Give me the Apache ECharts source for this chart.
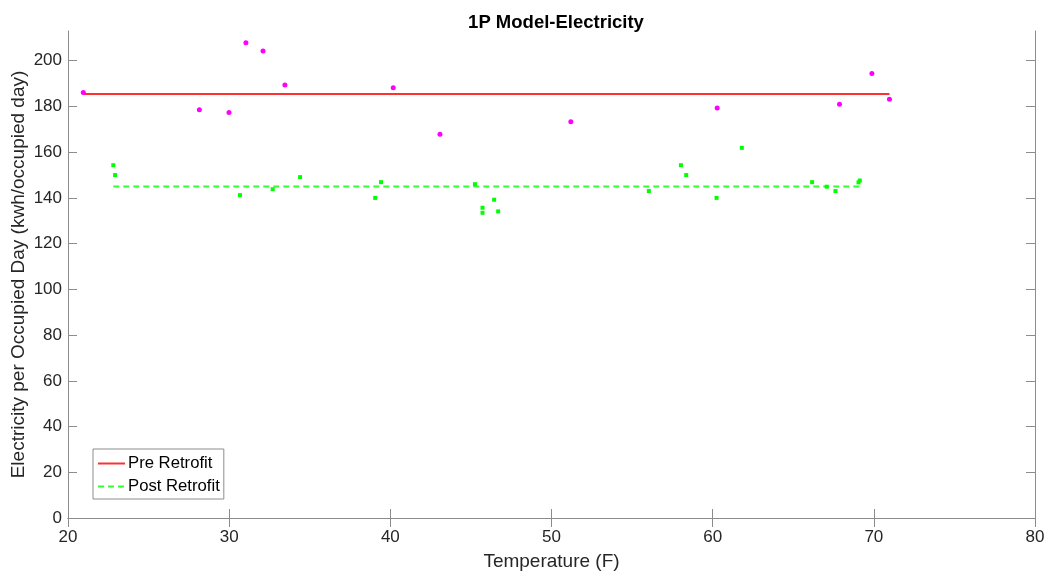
<!DOCTYPE html>
<html><head><meta charset="utf-8">
<script src="https://cdn.jsdelivr.net/npm/echarts@6/dist/echarts.min.js"></script>
<style>html,body{margin:0;padding:0;background:#fff}#c{width:1047px;height:574px}</style>
</head><body><div id="c"></div>
<script>
// Pre-retrofit observations [temperature F, kWh/occupied day]
const preTemps  = [20.95, 28.15, 29.99, 31.04, 32.10, 33.46, 40.18, 43.08, 51.20, 60.28, 67.87, 69.88, 70.97];
const preValues = [186.1, 178.6, 177.4, 207.9, 204.2, 189.4, 188.2, 167.8, 173.3, 179.3, 181.0, 194.4, 183.1];
// Post-retrofit observations
const postTemps  = [22.81, 22.92, 30.67, 32.70, 34.40, 39.06, 39.42, 45.25, 45.72, 45.72, 46.44, 46.69, 56.04, 58.03, 58.36, 60.24, 61.81, 66.17, 67.08, 67.62, 69.13, 69.05];
const postValues = [154.3, 150.0, 141.2, 143.8, 149.1, 140.0, 146.9, 146.0, 135.7, 133.5, 139.2, 134.1, 143.0, 154.3, 150.0, 140.0, 161.9, 146.9, 144.9, 143.0, 147.6, 146.8];
// 1P model constants
const preModel = 185.4;
const postModel = 145.0;
const xTicks = [20, 30, 40, 50, 60, 70, 80];
const yTicks = [0, 20, 40, 60, 80, 100, 120, 140, 160, 180, 200];
const yMax = 213;

const zip = (a, b) => a.map((v, i) => [v, b[i]]);
const preLine = [[Math.min(...preTemps), preModel], [Math.max(...preTemps), preModel]];
const postLine = [[Math.min(...postTemps), postModel], [Math.max(...postTemps), postModel]];

const font = 'Liberation Sans, Arial, sans-serif';
const axisCol = '#8c8c8c';
const txt = '#262626';
const chart = echarts.init(document.getElementById('c'), null, {renderer: 'canvas'});
const baseX = {
  type: 'value', min: xTicks[0], max: xTicks[xTicks.length - 1], interval: 10,
  axisLine: {show: true, lineStyle: {color: axisCol, width: 1}},
  axisTick: {show: true, inside: true, length: 9, lineStyle: {color: axisCol}},
  splitLine: {show: false}
};
const baseY = {
  type: 'value', min: 0, max: yMax,
  axisLine: {show: true, lineStyle: {color: axisCol, width: 1}},
  axisTick: {show: true, inside: true, length: 9, lineStyle: {color: axisCol}, customValues: yTicks},
  splitLine: {show: false}
};
chart.setOption({
  animation: false,
  backgroundColor: '#fff',
  title: {
    text: '1P Model-Electricity', left: 551, textAlign: 'center', top: 8,
    textStyle: {fontFamily: font, fontWeight: 'bold', fontSize: 18.5, color: '#000'}
  },
  grid: {left: 68, right: 12, top: 31, bottom: 56, containLabel: false, outerBoundsMode: 'none'},
  legend: {
    show: true, left: 93, top: 449, orient: 'vertical', itemGap: 6,
    itemWidth: 27, itemHeight: 16, padding: [6, 4, 4, 4],
    borderColor: '#8c8c8c', borderWidth: 1, backgroundColor: '#fff', borderRadius: 0,
    itemStyle: {opacity: 0},
    textStyle: {fontFamily: font, fontSize: 16.7, color: '#000', padding: [0, 0, 0, -2]},
    data: ['Pre Retrofit', 'Post Retrofit']
  },
  xAxis: [
    Object.assign({}, baseX, {
      position: 'bottom', name: 'Temperature (F)', nameLocation: 'middle', nameGap: 34, nameMoveOverlap: false,
      nameTextStyle: {fontFamily: font, fontSize: 19, color: txt},
      axisLabel: {fontFamily: font, fontSize: 17, color: txt, margin: 11}
    }),
    Object.assign({}, baseX, {position: 'top', axisLabel: {show: false}})
  ],
  yAxis: [
    Object.assign({}, baseY, {
      position: 'left', name: 'Electricity per Occupied Day (kwh/occupied day)', nameLocation: 'middle', nameGap: 40, nameMoveOverlap: false,
      nameTextStyle: {fontFamily: font, fontSize: 19, color: txt},
      axisLabel: {fontFamily: font, fontSize: 17, color: txt, margin: 6, customValues: yTicks}
    }),
    Object.assign({}, baseY, {position: 'right', axisLabel: {show: false}})
  ],
  series: [
    {name: 'Pre Retrofit', type: 'line', data: preLine, symbol: 'none', lineStyle: {color: '#ff3030', width: 2, type: 'solid'}, itemStyle: {color: '#ff3030'}, z: 2},
    {name: 'Post Retrofit', type: 'line', data: postLine, symbol: 'none', lineStyle: {color: '#33ff33', width: 2, type: [6, 4]}, itemStyle: {color: '#33ff33'}, z: 2},
    {name: 'preObs', type: 'scatter', data: zip(preTemps, preValues), symbol: 'circle', symbolSize: 5, itemStyle: {color: '#ff00ff', opacity: 1}, z: 3},
    {name: 'postObs', type: 'scatter', data: zip(postTemps, postValues), symbol: 'rect', symbolSize: 4, itemStyle: {color: '#00ff00', opacity: 1}, z: 3}
  ]
});
</script></body></html>
